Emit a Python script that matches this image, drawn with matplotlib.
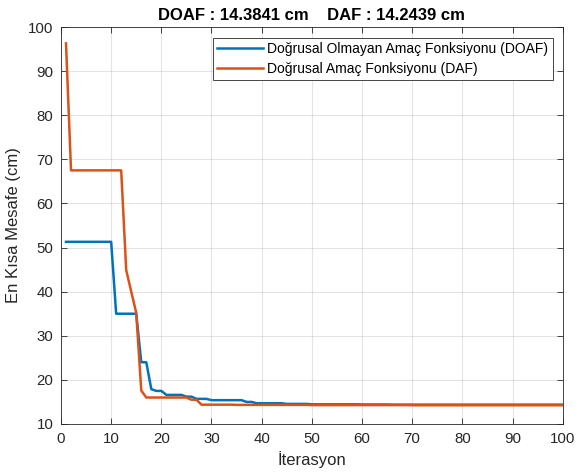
import matplotlib
matplotlib.use("Agg")
import matplotlib.pyplot as plt

plt.rcParams['font.family'] = ['Liberation Sans', 'DejaVu Sans']

# iteration numbers 1..100
iterasyon = list(range(1, 101))

# Doğrusal Olmayan Amaç Fonksiyonu (DOAF)
doaf = [51.3, 51.3, 51.3, 51.3, 51.3, 51.3, 51.3, 51.3, 51.3, 51.3,
        35.0, 35.0, 35.0, 35.0, 35.0, 24.0, 24.0, 17.9, 17.5, 17.5,
        16.6, 16.6, 16.6, 16.6, 16.2, 16.2, 15.7, 15.7, 15.7, 15.4,
        15.4, 15.4, 15.4, 15.4, 15.4, 15.4, 15.0, 15.0, 14.7, 14.7,
        14.7, 14.7, 14.7, 14.7, 14.55, 14.55, 14.55, 14.55, 14.55, 14.45,
        14.45, 14.45, 14.45, 14.45, 14.45, 14.45, 14.45, 14.45, 14.45, 14.42,
        14.42, 14.42, 14.42, 14.42, 14.42, 14.3841, 14.3841, 14.3841, 14.3841, 14.3841,
        14.3841, 14.3841, 14.3841, 14.3841, 14.3841, 14.3841, 14.3841, 14.3841, 14.3841, 14.3841,
        14.3841, 14.3841, 14.3841, 14.3841, 14.3841, 14.3841, 14.3841, 14.3841, 14.3841, 14.3841,
        14.3841, 14.3841, 14.3841, 14.3841, 14.3841, 14.3841, 14.3841, 14.3841, 14.3841, 14.3841]

# Doğrusal Amaç Fonksiyonu (DAF)
daf = [96.3, 67.5, 67.5, 67.5, 67.5, 67.5, 67.5, 67.5, 67.5, 67.5,
       67.5, 67.5, 44.9, 40.0, 35.2, 17.6, 16.0, 16.0, 16.0, 16.0,
       16.0, 16.0, 16.0, 16.0, 16.0, 15.5, 15.5, 14.38, 14.38, 14.38,
       14.38, 14.38, 14.38, 14.38, 14.33, 14.33, 14.33, 14.33, 14.33, 14.33,
       14.33, 14.33, 14.33, 14.33, 14.33, 14.33, 14.33, 14.33, 14.33, 14.28,
       14.28, 14.28, 14.28, 14.28, 14.28, 14.28, 14.28, 14.28, 14.28, 14.28,
       14.28, 14.28, 14.28, 14.28, 14.28, 14.28, 14.28, 14.28, 14.28, 14.2439,
       14.2439, 14.2439, 14.2439, 14.2439, 14.2439, 14.2439, 14.2439, 14.2439, 14.2439, 14.2439,
       14.2439, 14.2439, 14.2439, 14.2439, 14.2439, 14.2439, 14.2439, 14.2439, 14.2439, 14.2439,
       14.2439, 14.2439, 14.2439, 14.2439, 14.2439, 14.2439, 14.2439, 14.2439, 14.2439, 14.2439]

xticks = list(range(0, 101, 10))
yticks = list(range(10, 101, 10))

fig = plt.figure(figsize=(5.77, 4.74), dpi=100)
ax = fig.add_axes([0.1057, 0.1055, 0.8695, 0.8375])

ax.plot(iterasyon, doaf, color='#0072BD', lw=1.8,
        label='Doğrusal Olmayan Amaç Fonksiyonu (DOAF)')
ax.plot(iterasyon, daf, color='#D95319', lw=1.8,
        label='Doğrusal Amaç Fonksiyonu (DAF)')

ax.set_xlim(0, 100)
ax.set_ylim(10, 100)
ax.set_xticks(xticks)
ax.set_yticks(yticks)
ax.grid(True, color='#262626', alpha=0.12, lw=0.8)
ax.tick_params(direction='in', top=True, right=True, labelsize=10.8,
               colors='#262626', length=4, width=0.6, pad=5.5)
for s in ax.spines.values():
    s.set_color('#262626')
    s.set_linewidth(0.6)

ax.set_xlabel('İterasyon', fontsize=12, color='#262626', labelpad=4)
ax.set_ylabel('En Kısa Mesafe (cm)', fontsize=12, color='#262626', labelpad=5)
ax.set_title('DOAF : 14.3841 cm    DAF : 14.2439 cm', fontsize=12,
             fontweight='bold', pad=5)

leg = ax.legend(loc='upper right', bbox_to_anchor=(0.98, 0.973), fontsize=10,
                fancybox=False, framealpha=1, edgecolor='#262626',
                handlelength=3.3, borderaxespad=0, labelspacing=0.42,
                handletextpad=0.35, borderpad=0.3)
leg.get_frame().set_linewidth(0.6)

fig.savefig('out.png', dpi=100)
